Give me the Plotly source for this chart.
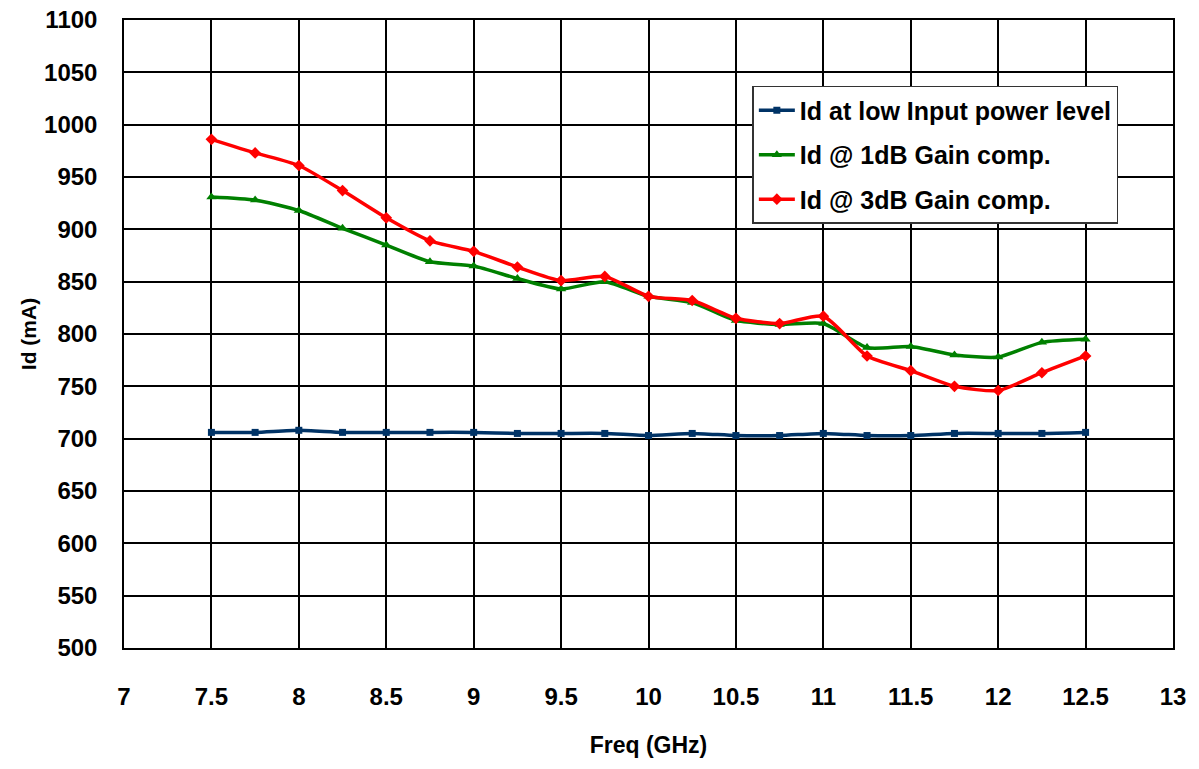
import plotly.graph_objects as go

freq = [7.5, 7.75, 8.0, 8.25, 8.5, 8.75, 9.0, 9.25, 9.5, 9.75, 10.0,
        10.25, 10.5, 10.75, 11.0, 11.25, 11.5, 11.75, 12.0, 12.25, 12.5]
id_low = [706, 706, 708, 706, 706, 706, 706, 705, 705, 705, 703,
          705, 703, 703, 705, 703, 703, 705, 705, 705, 706]
id_1db = [931, 928, 918, 901, 885, 869, 865, 853, 843, 850, 836,
          830, 813, 809, 810, 787, 788, 780, 778, 792, 795]
id_3db = [986, 973, 961, 937, 911, 889, 879, 864, 851, 855, 836,
          832, 815, 810, 817, 779, 765, 750, 746, 763, 779]

x_ticks = [7, 7.5, 8, 8.5, 9, 9.5, 10, 10.5, 11, 11.5, 12, 12.5, 13]
y_ticks = list(range(500, 1101, 50))

FONT = "Liberation Sans, Arial, sans-serif"

fig = go.Figure()
fig.add_trace(go.Scatter(x=freq, y=id_low, mode="lines+markers", name="Id at low Input power level",
                         legendgroup="a",
                         line=dict(color="#003366", width=3.5, shape="spline", smoothing=0.6),
                         marker=dict(symbol="square", size=7, color="#003366")))
fig.add_trace(go.Scatter(x=freq, y=id_1db, mode="lines+markers", name="Id @ 1dB Gain comp.",
                         legendgroup="b",
                         line=dict(color="#008000", width=3.5, shape="spline", smoothing=0.6),
                         marker=dict(symbol="triangle-up", size=9, color="#008000")))
fig.add_trace(go.Scatter(x=freq, y=id_3db, mode="lines+markers", name="Id @ 3dB Gain comp.",
                         legendgroup="c",
                         line=dict(color="#ff0000", width=3.5, shape="spline", smoothing=0.6),
                         marker=dict(symbol="diamond", size=9, color="#ff0000")))

fig.update_layout(
    width=1199, height=769,
    margin=dict(l=124, r=26, t=20, b=121),
    paper_bgcolor="white", plot_bgcolor="white",
    font=dict(family=FONT, size=18, color="black"),
    legend=dict(x=0.599, y=0.895, xanchor="left", yanchor="top",
                bgcolor="white", bordercolor="#333333", borderwidth=1.5,
                font=dict(family=FONT, size=25, color="black", weight="bold"),
                tracegroupgap=9, itemwidth=36),
    showlegend=True,
)
fig.update_xaxes(range=[7, 13], tickvals=x_ticks, ticktext=[f"{v:g}" for v in x_ticks],
                 showgrid=True, gridcolor="black", gridwidth=1.5,
                 showline=True, linecolor="black", linewidth=1.5, mirror=True,
                 zeroline=False, ticks="", ticklabelstandoff=26, automargin=False,
                 tickfont=dict(family=FONT, size=24, weight="bold"),
                 title=dict(text="Freq (GHz)", standoff=28,
                            font=dict(family=FONT, size=23, weight="bold")))
fig.update_yaxes(range=[500, 1100], tickvals=y_ticks,
                 showgrid=True, gridcolor="black", gridwidth=1.5,
                 showline=True, linecolor="black", linewidth=1.5, mirror=True,
                 zeroline=False, ticks="", ticklabelstandoff=20, automargin=False,
                 tickfont=dict(family=FONT, size=24, weight="bold"),
                 title=dict(text="Id (mA)", standoff=2,
                            font=dict(family=FONT, size=21, weight="bold")))

fig.write_html("out.html")
